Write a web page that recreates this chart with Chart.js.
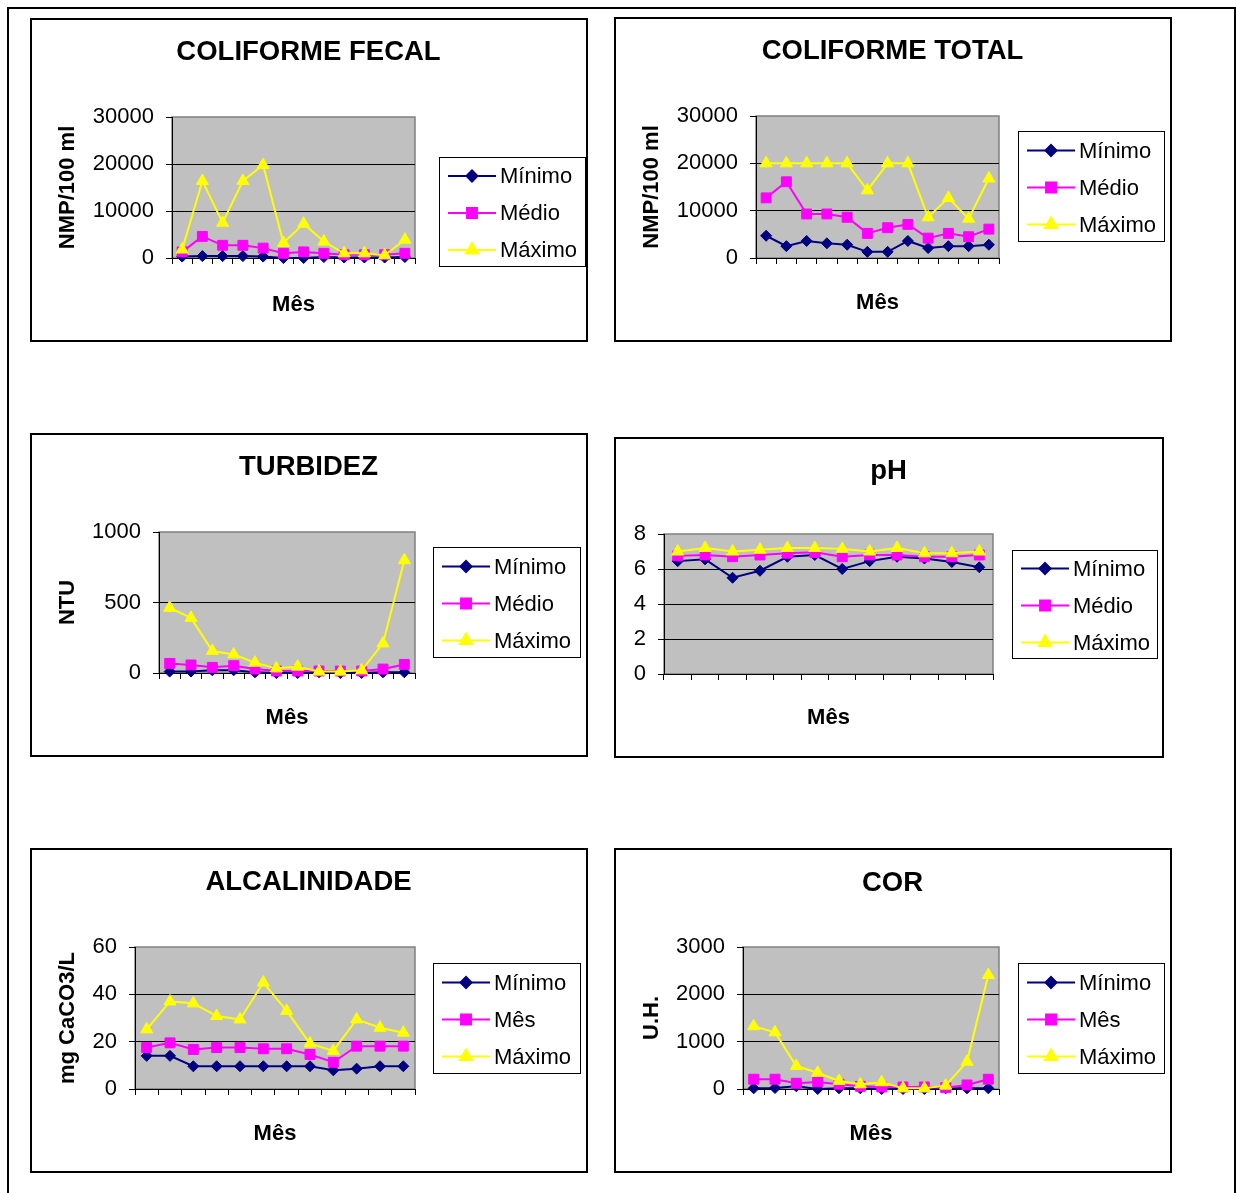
<!DOCTYPE html>
<html lang="pt">
<head>
<meta charset="utf-8">
<script src="https://cdn.jsdelivr.net/npm/chart.js@4.4.1/dist/chart.umd.min.js"></script>
<style>
  html, body { margin: 0; padding: 0; background: #fff; }
  body { width: 1236px; height: 1193px; position: relative; overflow: hidden; }
  .frame { position: absolute; left: 7px; top: 7px; width: 1229px; height: 1300px;
           border: 2px solid #000; box-sizing: border-box; }
  .box { position: absolute; border: 2px solid #000; box-sizing: border-box; pointer-events: none; }
  canvas { position: absolute; }
</style>
</head>
<body>
<div class="frame"></div>

<script>
// ── DATA ──
const MONTHS = ['1', '2', '3', '4', '5', '6', '7', '8', '9', '10', '11', '12'];
const NAMES_MEDIO = ['Mínimo', 'Médio', 'Máximo'];
const NAMES_MES   = ['Mínimo', 'Mês', 'Máximo'];

const FECAL_MIN = [300, 400, 400, 400, 300, 0, 0, 200, 100, 100, 100, 200];
const FECAL_MED = [1300, 4600, 2700, 2700, 2100, 1000, 1300, 1000, 700, 700, 700, 1000];
const FECAL_MAX = [1800, 16400, 7500, 16400, 19800, 3200, 7300, 3500, 1000, 1000, 600, 3900];
const FECAL_TICKS = [0, 10000, 20000, 30000];

const TOTAL_MIN = [4700, 2500, 3600, 3100, 2800, 1300, 1300, 3600, 2100, 2500, 2500, 2800];
const TOTAL_MED = [12700, 16100, 9300, 9300, 8600, 5200, 6400, 7100, 4200, 5200, 4500, 6100];
const TOTAL_MAX = [20000, 20000, 20000, 20000, 20000, 14300, 20000, 20000, 8600, 12700, 8300, 16800];
const TOTAL_TICKS = [0, 10000, 20000, 30000];

const TURB_MIN = [10, 10, 19, 19, 5, 0, 0, 5, 0, 0, 5, 5];
const TURB_MED = [68, 57, 40, 52, 28, 14, 14, 14, 14, 14, 28, 61];
const TURB_MAX = [462, 391, 156, 132, 73, 33, 45, 10, 10, 19, 210, 800];
const TURB_TICKS = [0, 500, 1000];

const PH_MIN = [6.45, 6.55, 5.5, 5.9, 6.7, 6.8, 6.0, 6.45, 6.7, 6.6, 6.4, 6.1];
const PH_MED = [6.75, 6.8, 6.7, 6.8, 6.9, 6.95, 6.7, 6.8, 6.8, 6.7, 6.7, 6.8];
const PH_MAX = [7.0, 7.2, 7.0, 7.1, 7.2, 7.2, 7.15, 7.0, 7.2, 6.9, 6.9, 7.0];
const PH_TICKS = [0, 2, 4, 6, 8];

const ALC_MIN = [14, 14, 9.6, 9.6, 9.6, 9.6, 9.6, 9.6, 7.9, 8.6, 9.6, 9.6];
const ALC_MED = [17.5, 19.5, 16.7, 17.5, 17.5, 17, 17, 14.6, 11.3, 18.1, 18.1, 18.1];
const ALC_MAX = [25.2, 37, 36.2, 30.8, 29.4, 45, 33, 19.2, 16.1, 29.4, 25.9, 23.8];
const ALC_TICKS = [0, 20, 40, 60];

const COR_MIN = [14, 21, 57, 0, 14, 14, 0, 0, 0, 14, 14, 14];
const COR_MED = [207, 207, 121, 150, 100, 57, 43, 43, 43, 28, 86, 207];
const COR_MAX = [1326, 1197, 485, 342, 171, 100, 143, 14, 14, 71, 577, 2409];
const COR_TICKS = [0, 1000, 2000, 3000];

// ── LAYOUT (page pixels) ──
// box: [left, top, right, bottom], plot: [left, top, right, bottom], legend: [x, y, w, h]
const PANELS = [
  { title: 'COLIFORME FECAL', yTitle: 'NMP/100 ml', names: NAMES_MEDIO,
    series: [FECAL_MIN, FECAL_MED, FECAL_MAX], ticks: FECAL_TICKS,
    box: [30, 18, 587, 341], plot: [172, 117, 415, 258],
    titleY: 52, yTitleX: 68, xTitleY: 305, legend: [439, 157, 147, 110] },
  { title: 'COLIFORME TOTAL', yTitle: 'NMP/100 ml', names: NAMES_MEDIO,
    series: [TOTAL_MIN, TOTAL_MED, TOTAL_MAX], ticks: TOTAL_TICKS,
    box: [614, 17, 1171, 341], plot: [756, 116, 999, 258],
    titleY: 51, yTitleX: 652, xTitleY: 303, legend: [1018, 131, 147, 111] },
  { title: 'TURBIDEZ', yTitle: 'NTU', names: NAMES_MEDIO,
    series: [TURB_MIN, TURB_MED, TURB_MAX], ticks: TURB_TICKS,
    box: [30, 433, 587, 756], plot: [159, 532, 415, 673],
    titleY: 467, yTitleX: 68, xTitleY: 718, legend: [433, 547, 148, 111] },
  { title: 'pH', yTitle: '', names: NAMES_MEDIO,
    series: [PH_MIN, PH_MED, PH_MAX], ticks: PH_TICKS,
    box: [614, 437, 1163, 757], plot: [664, 534, 993, 674],
    titleY: 471, yTitleX: 0, xTitleY: 718, legend: [1012, 550, 146, 109] },
  { title: 'ALCALINIDADE', yTitle: 'mg CaCO3/L', names: NAMES_MES,
    series: [ALC_MIN, ALC_MED, ALC_MAX], ticks: ALC_TICKS,
    box: [30, 848, 587, 1172], plot: [135, 947, 415, 1089],
    titleY: 882, yTitleX: 68, xTitleY: 1134, legend: [433, 963, 148, 111] },
  { title: 'COR', yTitle: 'U.H.', names: NAMES_MES,
    series: [COR_MIN, COR_MED, COR_MAX], ticks: COR_TICKS,
    box: [614, 848, 1171, 1172], plot: [743, 947, 999, 1089],
    titleY: 883, yTitleX: 652, xTitleY: 1134, legend: [1018, 963, 147, 111] },
];

const STYLES = [
  { color: '#000080', pointStyle: 'rectRot',  radius: 5.5 },
  { color: '#FF00FF', pointStyle: 'rect',     radius: 7 },
  { color: '#FFFF00', pointStyle: 'triangle', radius: 7 },
];

const FONT = 'Liberation Sans';
Chart.defaults.font.family = FONT;
Chart.defaults.color = '#000';

// gray plot area with a gray frame, like the spreadsheet
const plotBg = {
  id: 'plotBg',
  beforeDraw(chart) {
    const { ctx, chartArea: a } = chart;
    ctx.save();
    ctx.fillStyle = '#C0C0C0';
    ctx.fillRect(a.left, a.top, a.right - a.left, a.bottom - a.top);
    ctx.strokeStyle = '#808080';
    ctx.lineWidth = 1.5;
    ctx.strokeRect(a.left, a.top, a.right - a.left, a.bottom - a.top);
    ctx.restore();
  }
};

// boxed legend with line + marker samples
const boxLegend = {
  id: 'boxLegend',
  afterDraw(chart, args, opts) {
    const ctx = chart.ctx;
    const [x, y, w, h] = opts.rect;
    ctx.save();
    ctx.fillStyle = '#fff';
    ctx.fillRect(x, y, w, h);
    ctx.strokeStyle = '#000';
    ctx.lineWidth = 1;
    ctx.strokeRect(x + 0.5, y + 0.5, w - 1, h - 1);
    const cy = y + h / 2 + 1;
    chart.data.datasets.forEach((ds, i) => {
      const ry = cy + (i - 1) * 37;
      ctx.strokeStyle = ds.borderColor;
      ctx.lineWidth = 2;
      ctx.beginPath();
      ctx.moveTo(x + 9, ry);
      ctx.lineTo(x + 57, ry);
      ctx.stroke();
      ctx.fillStyle = ds.pointBackgroundColor;
      ctx.strokeStyle = ds.pointBorderColor;
      Chart.helpers.drawPoint(ctx, { pointStyle: ds.pointStyle, radius: ds.pointRadius, borderWidth: 1, rotation: 0 }, x + 33, ry);
      ctx.fillStyle = '#000';
      ctx.font = '22px "' + FONT + '"';
      ctx.textBaseline = 'middle';
      ctx.textAlign = 'left';
      ctx.fillText(ds.label, x + 61, ry + 1);
    });
    ctx.restore();
  }
};

function makePanel(p) {
  const [L, T, R, B] = p.box;
  const W = R - L, H = B - T;

  const canvas = document.createElement('canvas');
  canvas.width = W; canvas.height = H;
  canvas.style.left = L + 'px'; canvas.style.top = T + 'px';
  document.body.appendChild(canvas);

  const frame = document.createElement('div');
  frame.className = 'box';
  frame.style.left = L + 'px'; frame.style.top = T + 'px';
  frame.style.width = (W + 1) + 'px'; frame.style.height = (H + 1) + 'px';
  document.body.appendChild(frame);

  const titleSize = 27.5, axisTitleSize = 22;
  const titleTop = p.titleY - T - titleSize / 2;
  const titleBottom = (p.plot[1] - T) - titleTop - titleSize;
  const yWidth = p.plot[0] - L;
  const rightWidth = W - (p.plot[2] - L);
  const xHeight = H - (p.plot[3] - T);
  const yMax = p.ticks[p.ticks.length - 1];

  new Chart(canvas, {
    type: 'line',
    data: {
      labels: MONTHS,
      datasets: p.series.map((vals, i) => ({
        label: p.names[i],
        data: vals,
        borderColor: STYLES[i].color,
        backgroundColor: STYLES[i].color,
        pointBackgroundColor: STYLES[i].color,
        pointBorderColor: STYLES[i].color,
        pointStyle: STYLES[i].pointStyle,
        pointRadius: STYLES[i].radius,
        pointBorderWidth: 1,
        borderWidth: 2,
        tension: 0,
        clip: false,
        order: 3 - i,
      }))
    },
    options: {
      responsive: false,
      animation: false,
      devicePixelRatio: 1,
      layout: { padding: 0 },
      plugins: {
        legend: { display: false },
        tooltip: { enabled: false },
        title: {
          display: true, text: p.title, color: '#000',
          font: { size: titleSize, weight: 'bold', lineHeight: 1 },
          padding: { top: titleTop, bottom: titleBottom }
        },
        boxLegend: { rect: [p.legend[0] - L, p.legend[1] - T, p.legend[2], p.legend[3]] }
      },
      scales: {
        x: {
          type: 'category',
          offset: true,
          grid: { offset: true, drawOnChartArea: false, drawTicks: true, tickLength: 6, tickColor: '#000', color: '#000' },
          border: { display: true, color: '#000', width: 1 },
          ticks: { display: false },
          title: {
            display: true, text: 'Mês', color: '#000',
            font: { size: axisTitleSize, weight: 'bold', lineHeight: 1 },
            padding: { top: 0, bottom: H - axisTitleSize / 2 - (p.xTitleY - T) }
          },
          afterFit: s => { s.height = xHeight; }
        },
        y: {
          min: 0, max: yMax,
          afterBuildTicks: s => { s.ticks = p.ticks.map(v => ({ value: v })); },
          grid: {
            drawTicks: true, tickLength: 6, tickColor: '#000',
            color: c => (c.tick && c.tick.value === yMax) ? 'rgba(0,0,0,0)' : '#000',
            lineWidth: 1
          },
          border: { display: true, color: '#000', width: 1 },
          ticks: { font: { size: 22 }, color: '#000', padding: 12, callback: v => String(v) },
          title: {
            display: !!p.yTitle, text: p.yTitle, color: '#000',
            font: { size: axisTitleSize, weight: 'bold', lineHeight: 1 },
            padding: { top: p.yTitleX - L - axisTitleSize / 2, bottom: 0 }
          },
          afterFit: s => { s.width = yWidth; }
        },
        // empty right-hand strip that holds the legend, so the title spans the whole box
        side: {
          type: 'linear', position: 'right', display: true,
          grid: { display: false, drawTicks: false }, border: { display: false },
          ticks: { display: false },
          afterFit: s => { s.width = rightWidth; }
        }
      }
    },
    plugins: [plotBg, boxLegend]
  });
}

PANELS.forEach(makePanel);
</script>
</body>
</html>
